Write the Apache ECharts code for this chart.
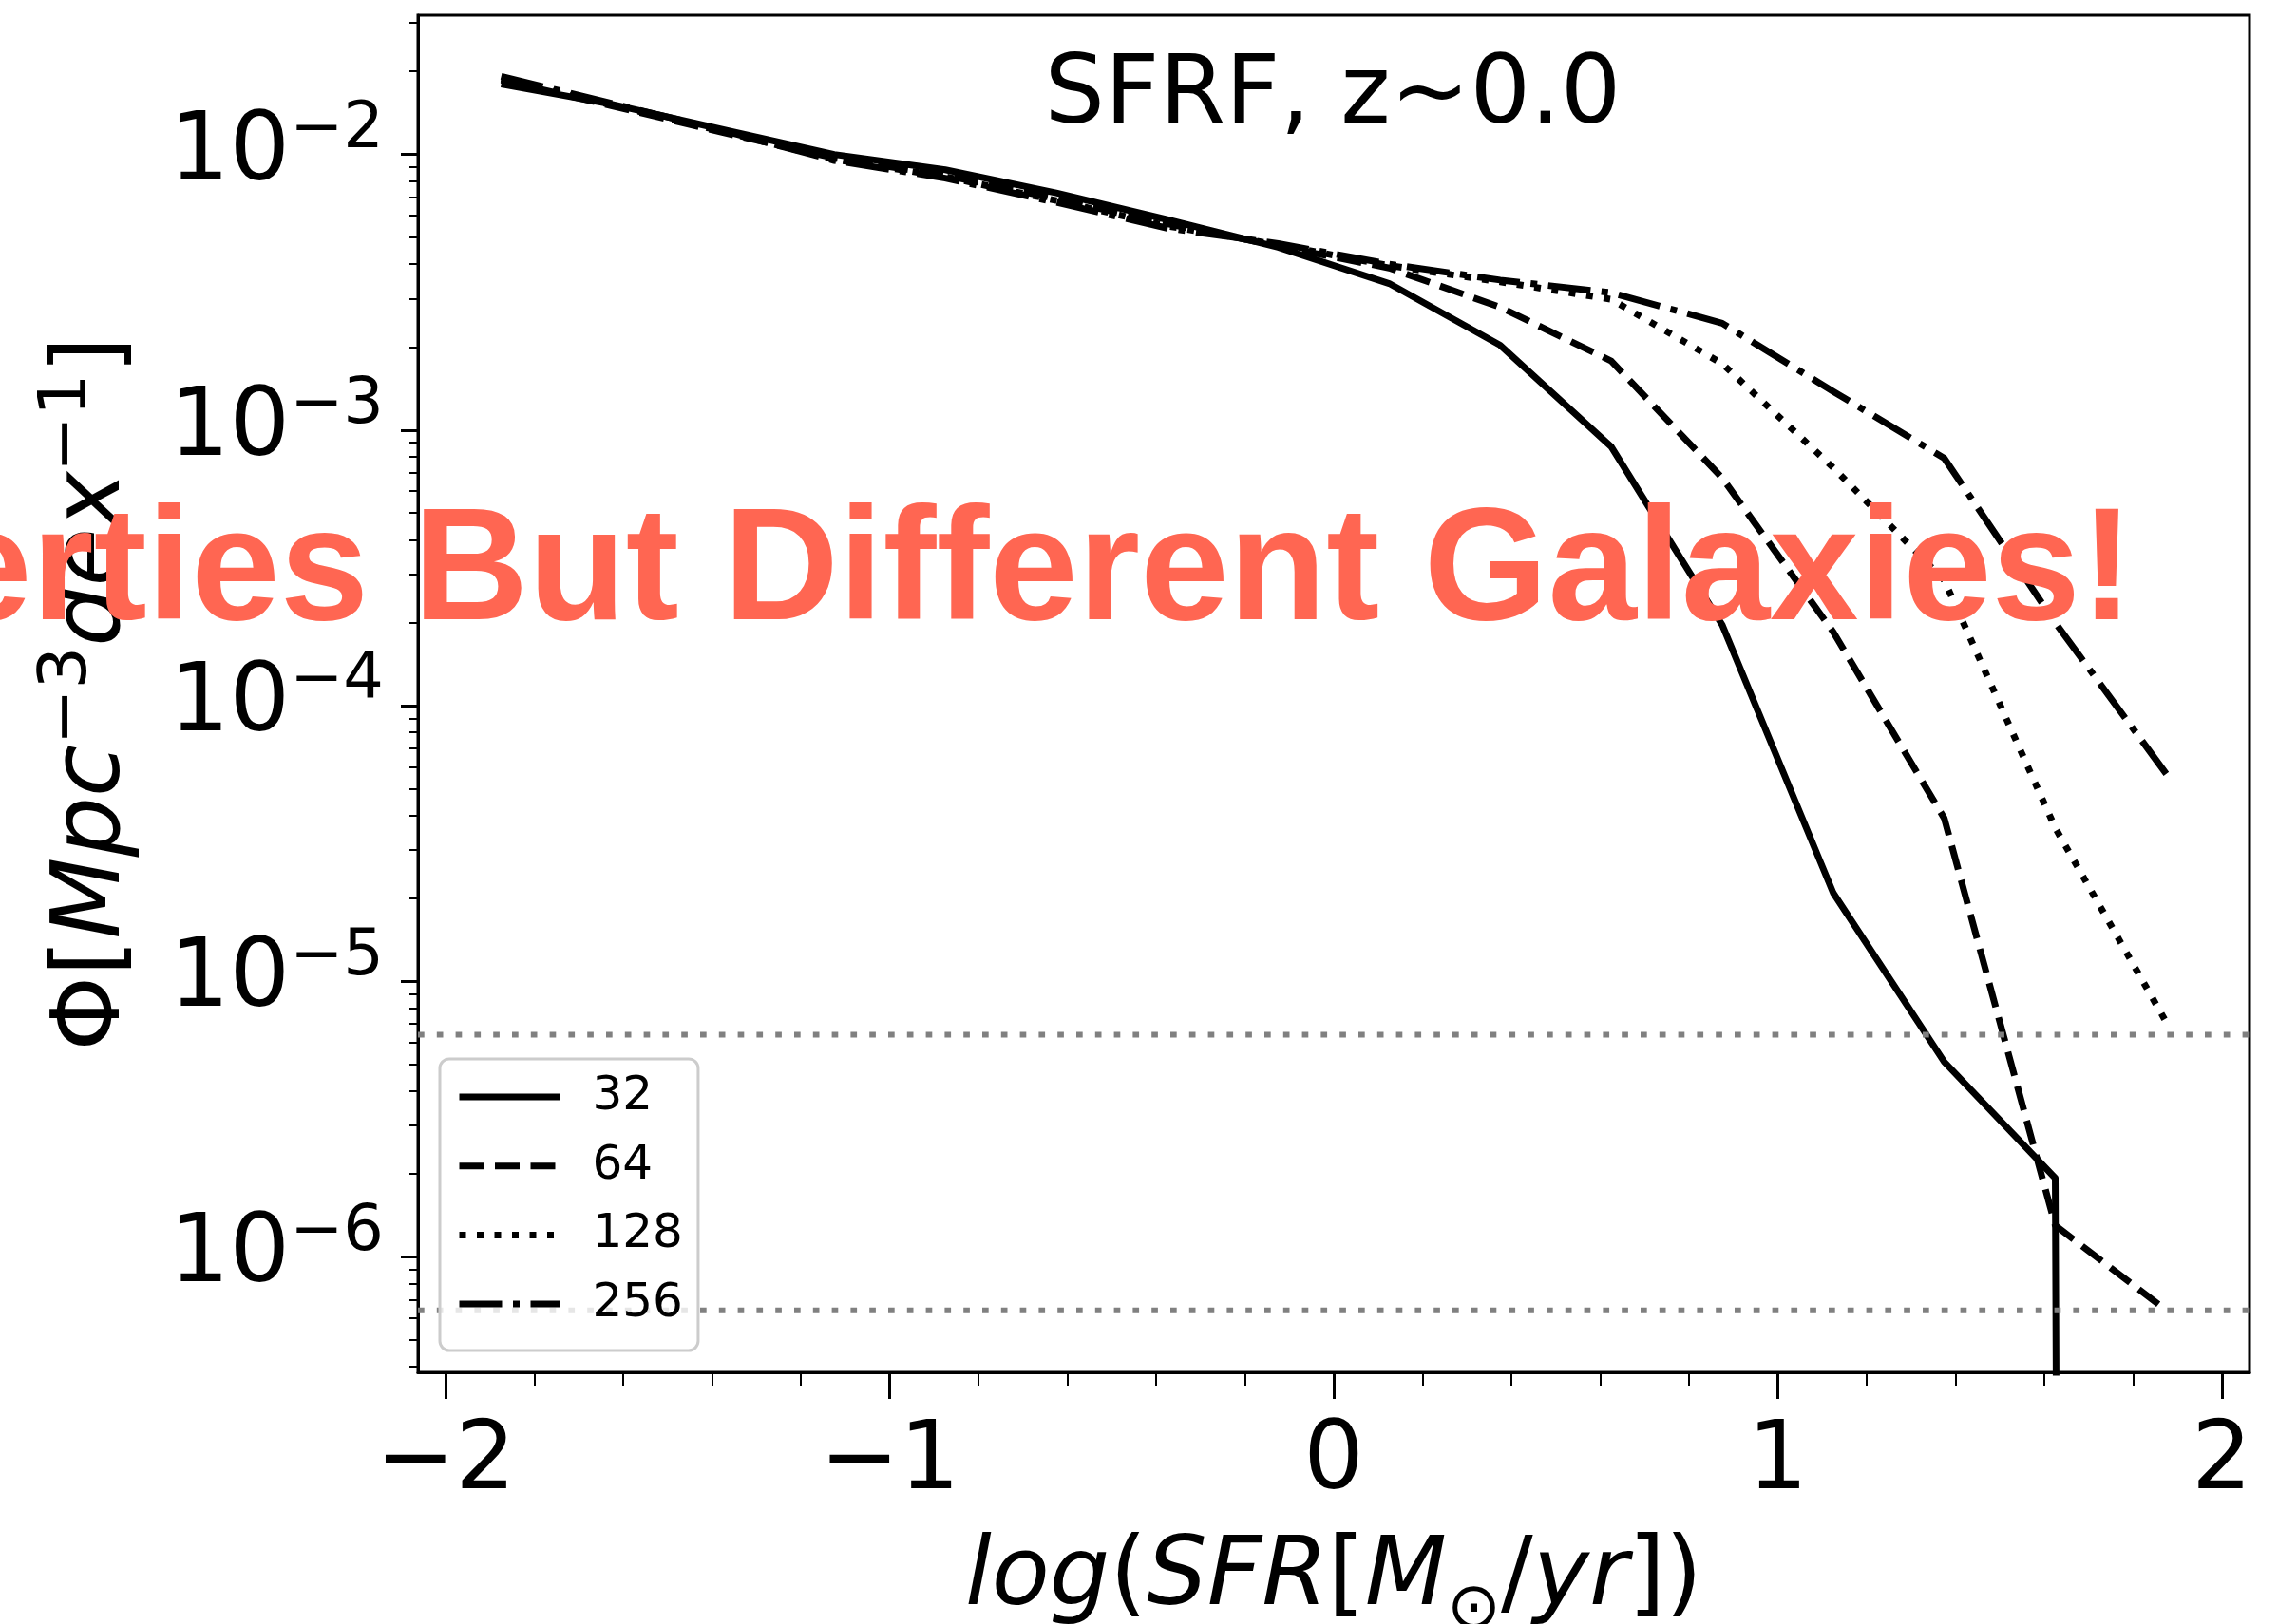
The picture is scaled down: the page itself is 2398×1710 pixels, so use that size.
<!DOCTYPE html>
<html>
<head>
<meta charset="utf-8">
<script src="https://cdn.jsdelivr.net/npm/echarts@6/dist/echarts.min.js"></script>
<style>
html,body{margin:0;padding:0;background:#fff;}
#chart{width:2398px;height:1710px;}
</style>
</head>
<body>
<div id="chart"></div>
<script>
// ---- data ----
const logSFR = [-1.875, -1.625, -1.375, -1.125, -0.875, -0.625, -0.375, -0.125,
                0.125, 0.375, 0.625, 0.875, 1.125, 1.375, 1.625, 1.875];
const phi32  = [1.80e-2, 1.52e-2, 1.23e-2, 1.00e-2, 8.8e-3, 7.25e-3, 5.8e-3, 4.6e-3,
                3.4e-3, 2.03e-3, 8.7e-4, 1.96e-4, 2.09e-5, 5.1e-6, 1.93e-6, 1e-99]; // last bin ~0 (drops off the axis)
const phi64  = [1.86e-2, 1.50e-2, 1.20e-2, 9.7e-3, 8.4e-3, 6.9e-3, 5.6e-3, 4.65e-3,
                3.87e-3, 2.79e-3, 1.78e-3, 6.7e-4, 1.85e-4, 3.9e-5, 1.3e-6, 6.4e-7];
const phi128 = [1.88e-2, 1.51e-2, 1.21e-2, 9.6e-3, 8.3e-3, 6.8e-3, 5.5e-3, 4.7e-3,
                3.95e-3, 3.45e-3, 2.98e-3, 1.74e-3, 7.3e-4, 2.85e-4, 3.6e-5, 7.1e-6];
const phi256 = [1.92e-2, 1.53e-2, 1.22e-2, 9.5e-3, 8.2e-3, 6.7e-3, 5.4e-3, 4.75e-3,
                4.0e-3, 3.5e-3, 3.15e-3, 2.44e-3, 1.38e-3, 7.9e-4, 2.0e-4, 5.65e-5];
const seriesNames = ['32', '64', '128', '256'];
const limitLines = [6.4e-6, 6.4e-7];

const xMajorTicks = [-2, -1, 0, 1, 2];
const xMinorTicks = [-1.8, -1.6, -1.4, -1.2, -0.8, -0.6, -0.4, -0.2,
                     0.2, 0.4, 0.6, 0.8, 1.2, 1.4, 1.6, 1.8];
const yMajorTicks = [1e-6, 1e-5, 1e-4, 1e-3, 1e-2];
const yMinorTicks = [4e-7, 5e-7, 6e-7, 7e-7, 8e-7, 9e-7,
                     2e-6, 3e-6, 4e-6, 5e-6, 6e-6, 7e-6, 8e-6, 9e-6,
                     2e-5, 3e-5, 4e-5, 5e-5, 6e-5, 7e-5, 8e-5, 9e-5,
                     2e-4, 3e-4, 4e-4, 5e-4, 6e-4, 7e-4, 8e-4, 9e-4,
                     2e-3, 3e-3, 4e-3, 5e-3, 6e-3, 7e-3, 8e-3, 9e-3,
                     2e-2, 3e-2];
const xRange = [-2.0625, 2.0625];
const yRange = [3.81e-7, 0.032];

const titleText = 'SFRF, z~0.0';
const overlayText = 'Properties But Different Galaxies!';

// ---- styles ----
const FONT = '"DejaVu Sans", "Noto Sans", sans-serif';
const lineTypes = ['solid', [26, 11.5], [7, 11.5], [45, 11.5, 7, 11.5]];
const seriesData = [phi32, phi64, phi128, phi256];

const chart = echarts.init(document.getElementById('chart'), null, {renderer: 'canvas'});

const series = seriesNames.map((name, k) => ({
  name: name,
  type: 'line',
  xAxisIndex: 0,
  yAxisIndex: 0,
  data: logSFR.map((x, i) => [x, seriesData[k][i]]),
  symbol: 'none',
  showSymbol: false,
  clip: true,
  lineStyle: {color: '#000', width: 7, type: lineTypes[k], join: 'round', cap: 'butt'},
  itemStyle: {color: '#000'},
  emphasis: {disabled: true},
  silent: true,
  z: 3
}));
limitLines.forEach((v, j) => {
  series.push({
    name: 'limit' + j,
    type: 'line',
    xAxisIndex: 0,
    yAxisIndex: 0,
    data: [[xRange[0], v], [xRange[1], v]],
    symbol: 'none',
    showSymbol: false,
    clip: true,
    lineStyle: {color: '#808080', width: 6, type: [6.7, 13.1], cap: 'butt'},
    itemStyle: {color: '#808080'},
    emphasis: {disabled: true},
    silent: true,
    z: 4
  });
});

const fmtX = v => (v < 0 ? '\u2212' + (-v) : String(v));
const fmtY = v => {
  const e = Math.round(Math.log10(v));
  return '{b|10}{s|' + (e < 0 ? '\u2212' + (-e) : e) + '}';
};

const option = {
  animation: false,
  backgroundColor: '#fff',
  title: {
    text: titleText,
    left: 1403,
    top: 53,
    padding: 0,
    textAlign: 'center',
    textVerticalAlign: 'top',
    textStyle: {fontFamily: FONT, fontSize: 100, fontWeight: 'normal', color: '#000', lineHeight: 100}
  },
  grid: {
    left: 440, top: 16, width: 1928, height: 1429,
    show: true, borderColor: '#000', borderWidth: 3, backgroundColor: 'transparent',
    containLabel: false, outerBoundsMode: 'none'
  },
  legend: {
    data: seriesNames,
    orient: 'vertical',
    left: 463, top: 1115,
    itemWidth: 106, itemHeight: 50, itemGap: 22.7,
    padding: [15, 16, 24, 17],
    backgroundColor: 'rgba(255,255,255,0.8)',
    borderColor: '#cccccc', borderWidth: 3, borderRadius: 10,
    selectedMode: false,
    lineStyle: {width: 7},
    itemStyle: {opacity: 0, borderWidth: 0},
    textStyle: {fontFamily: FONT, fontSize: 50, color: '#000', lineHeight: 50, padding: [0, 0, 0, 29]},
    z: 10
  },
  xAxis: [
    {
      type: 'value', min: xRange[0], max: xRange[1], position: 'bottom',
      axisLine: {show: true, onZero: false, lineStyle: {color: '#000', width: 3}},
      axisTick: {show: true, customValues: xMajorTicks, length: 28, lineStyle: {color: '#000', width: 3}},
      axisLabel: {show: true, customValues: xMajorTicks, formatter: fmtX, margin: 46,
                  fontFamily: FONT, fontSize: 100, color: '#000', lineHeight: 100},
      splitLine: {show: false},
      name: '{i|log}{r|(}{i|SFR}{r|[}{i|M}{sub|\u2299}{r|/}{i|yr}{r|])}',
      nameLocation: 'middle',
      nameGap: 166,
      nameTextStyle: {
        color: '#000',
        rich: {
          i: {fontFamily: FONT, fontStyle: 'italic', fontSize: 100, lineHeight: 100, color: '#000'},
          r: {fontFamily: FONT, fontSize: 100, lineHeight: 100, color: '#000'},
          sub: {fontFamily: FONT, fontSize: 68, lineHeight: 100, padding: [66, 0, 0, 0], color: '#000'}
        }
      }
    },
    {
      type: 'value', min: xRange[0], max: xRange[1], position: 'bottom',
      axisLine: {show: false, onZero: false},
      axisTick: {show: true, customValues: xMinorTicks, length: 14, lineStyle: {color: '#000', width: 2}},
      axisLabel: {show: false},
      splitLine: {show: false}
    }
  ],
  yAxis: [
    {
      type: 'log', logBase: 10, min: yRange[0], max: yRange[1], position: 'left',
      axisLine: {show: true, onZero: false, lineStyle: {color: '#000', width: 3}},
      axisTick: {show: true, customValues: yMajorTicks, length: 18, lineStyle: {color: '#000', width: 3}},
      axisLabel: {
        show: true, customValues: yMajorTicks, formatter: fmtY, margin: 36, color: '#000',
        rich: {
          b: {fontFamily: FONT, fontSize: 100, lineHeight: 100, color: '#000'},
          s: {fontFamily: FONT, fontSize: 67, lineHeight: 100, padding: [0, 0, 50, 0], color: '#000'}
        }
      },
      splitLine: {show: false},
      minorTick: {show: false},
      name: '{r|\u03A6[}{i|Mpc}{s|\u22123}{i|dex}{s|\u22121}{r|]}',
      nameLocation: 'middle',
      nameRotate: 90,
      nameGap: 283,
      nameTextStyle: {
        color: '#000',
        rich: {
          r: {fontFamily: FONT, fontSize: 100, lineHeight: 116, color: '#000'},
          i: {fontFamily: FONT, fontStyle: 'italic', fontSize: 100, lineHeight: 116, color: '#000'},
          s: {fontFamily: FONT, fontSize: 70, lineHeight: 116, padding: [0, 0, 54, 0], color: '#000'}
        }
      }
    },
    {
      type: 'log', logBase: 10, min: yRange[0], max: yRange[1], position: 'left',
      axisLine: {show: false, onZero: false},
      axisTick: {show: true, customValues: yMinorTicks, length: 9, lineStyle: {color: '#000', width: 2}},
      axisLabel: {show: false},
      splitLine: {show: false},
      minorTick: {show: false}
    }
  ],
  graphic: [
    {
      type: 'text',
      x: 2246, y: 606, z: 100,
      silent: true,
      style: {
        text: overlayText,
        fill: '#FF6652',
        font: 'bold 168px "Liberation Sans", Arial, sans-serif',
        align: 'right',
        verticalAlign: 'middle'
      }
    }
  ],
  series: series
};

chart.setOption(option);
</script>
</body>
</html>
